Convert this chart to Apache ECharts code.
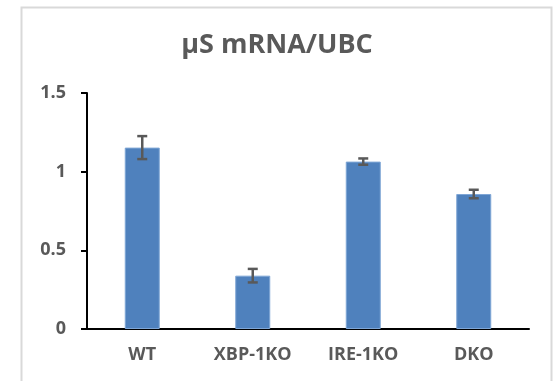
<!DOCTYPE html>
<html><head><meta charset="utf-8">
<script src="https://cdn.jsdelivr.net/npm/echarts@6/dist/echarts.min.js"></script>
<style>html,body{margin:0;padding:0;background:#fff}#c{width:554px;height:381px}</style>
</head><body><div id="c"></div>
<script>
const categories = ['WT', 'XBP-1KO', 'IRE-1KO', 'DKO'];
const values = [1.153, 0.339, 1.064, 0.858];
const errors = [0.073, 0.043, 0.02, 0.027];
const yTicks = [0, 0.5, 1, 1.5];

const chart = echarts.init(document.getElementById('c'), null, {renderer: 'canvas'});
const font = '"Open Sans", "Liberation Sans", sans-serif';
const errData = values.map((v, i) => [i, v - errors[i], v + errors[i]]);
chart.setOption({
  animation: false,
  title: {
    text: 'μS mRNA/UBC', left: 'center', top: 27,
    textStyle: {fontFamily: font, fontSize: 27, fontWeight: 'bold', color: '#595959'}
  },
  graphic: [{
    type: 'rect', shape: {x: 21.5, y: 7.5, width: 530, height: 400},
    style: {fill: null, stroke: '#d9d9d9', lineWidth: 2}, silent: true
  }],
  grid: {left: 87, right: 25, top: 93, bottom: 52},
  xAxis: {
    type: 'category', data: categories,
    axisLine: {lineStyle: {color: '#000', width: 2}},
    axisTick: {show: false},
    axisLabel: {fontFamily: font, fontSize: 18, fontWeight: 'bold', color: '#595959', margin: 17}
  },
  yAxis: {
    type: 'value', min: 0, max: 1.5, interval: 0.5,
    axisLine: {show: true, lineStyle: {color: '#000', width: 2}},
    axisTick: {show: true, length: 6, lineStyle: {color: '#000', width: 2}},
    splitLine: {show: false},
    axisLabel: {fontFamily: font, fontSize: 18, fontWeight: 'bold', color: '#595959', margin: 21,
      formatter: v => yTicks.includes(v) ? String(v) : ''}
  },
  series: [{
    type: 'bar', data: values, barWidth: 35,
    itemStyle: {color: '#4F81BD', borderColor: '#7fa6d6', borderWidth: 1}
  }, {
    type: 'custom', data: errData, z: 10,
    renderItem: (params, api) => {
      const x = api.coord([api.value(0), api.value(1)])[0];
      const lo = api.coord([api.value(0), api.value(1)])[1];
      const hi = api.coord([api.value(0), api.value(2)])[1];
      const hw = 5;
      const st = {stroke: '#595959', lineWidth: 2.5};
      return {type: 'group', children: [
        {type: 'line', shape: {x1: x, y1: lo, x2: x, y2: hi}, style: st},
        {type: 'line', shape: {x1: x - hw, y1: lo, x2: x + hw, y2: lo}, style: st},
        {type: 'line', shape: {x1: x - hw, y1: hi, x2: x + hw, y2: hi}, style: st}
      ]};
    }
  }]
});
</script></body></html>
